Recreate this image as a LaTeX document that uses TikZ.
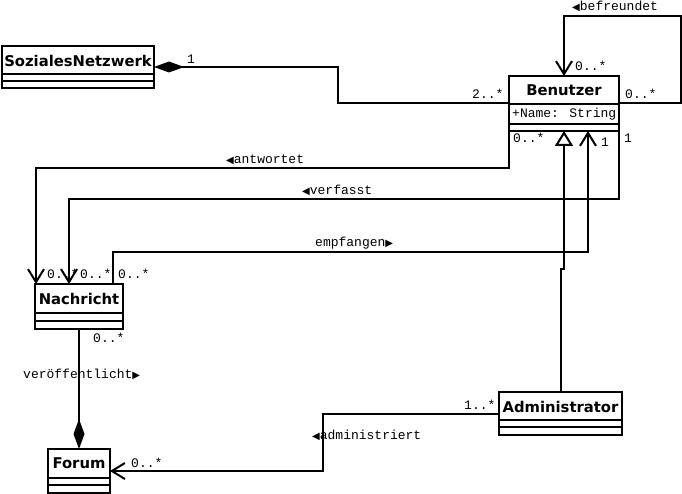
\documentclass[tikz,border=0pt]{standalone}
\usepackage{fontspec}
\setmainfont{DejaVu Sans}
\newfontfamily\monofam{Liberation Mono}
\newfontfamily\symfam{DejaVu Sans}
\usetikzlibrary{arrows.meta}
\newcommand{\tril}{{\symfam\fontsize{10}{10}\selectfont ◀}}
\newcommand{\trir}{{\symfam\fontsize{10}{10}\selectfont ▶}}
\begin{document}
\begin{tikzpicture}[x=1pt,y=-1pt,
  classbox/.style={draw, line width=2pt, inner sep=0pt, outer sep=0pt, anchor=north west},
  cname/.style={font=\fontsize{14.8}{16}\selectfont\bfseries, inner sep=0pt},
  lbl/.style={font=\fontsize{13}{15}\monofam, inner sep=0pt, anchor=base west},
  conn/.style={line width=2pt},
  openarrow/.style={-{Straight Barb[length=13pt,width=16pt]}},
  genarrow/.style={-{Triangle[open,length=15pt,width=18pt,fill=white]}},
  comparrow/.style={-{Diamond[length=30pt,width=11pt]}},
  compstart/.style={{Diamond[length=30pt,width=11pt]}-}
]
\useasboundingbox (0,0) rectangle (682,494);

% classes
\node[classbox, minimum width=152pt, minimum height=42pt] (sn) at (2,46) {};
\node[cname] (snname) at (78,60.5) {SozialesNetzwerk};
\draw[conn] (2,74) -- (154,74);
\draw[conn] (2,81) -- (154,81);

\node[classbox, minimum width=110pt, minimum height=55pt] (ben) at (509,76) {};
\node[cname] (benname) at (564,90.5) {Benutzer};
\node[lbl] (benattr) at (512,118) {+Name: String};
\draw[conn] (509,104) -- (619,104);
\draw[conn] (509,124) -- (619,124);

\node[classbox, minimum width=88pt, minimum height=45pt] (nach) at (35,284) {};
\node[cname] (nachname) at (79,298.5) {Nachricht};
\draw[conn] (35,313) -- (123,313);
\draw[conn] (35,321) -- (123,321);

\node[classbox, minimum width=62pt, minimum height=44pt] (forum) at (48,449) {};
\node[cname] (forumname) at (79,463.5) {Forum};
\draw[conn] (48,478) -- (110,478);
\draw[conn] (48,485) -- (110,485);

\node[classbox, minimum width=123pt, minimum height=43pt] (adm) at (499,392) {};
\node[cname] (admname) at (560.5,406.5) {Administrator};
\draw[conn] (499,420) -- (622,420);
\draw[conn] (499,427) -- (622,427);

% labels
\node[lbl] (m1) at (187,64) {1};
\node[lbl] (m2) at (472,99) {2..*};
\node[lbl] (m3) at (575,71) {0..*};
\node[lbl] (m4) at (625,99) {0..*};
\node[lbl] (l1) at (572,11) {\tril befreundet};
\node[lbl] (m5) at (513,143) {0..*};
\node[lbl] (m6) at (624,143) {1};
\node[lbl] (m7) at (601,147) {1};
\node[lbl] (l2) at (226,164) {\tril antwortet};
\node[lbl] (l3) at (302,195) {\tril verfasst};
\node[lbl] (l4) at (315,247) {empfangen\trir};
\node[lbl] (m8) at (47,278) {0..*};
\node[lbl] (m9) at (80,278) {0..*};
\node[lbl] (m10) at (118,278) {0..*};
\node[lbl] (m11) at (93,342) {0..*};
\node[lbl] (l5) at (23,378) {veröffentlicht\trir};
\node[lbl] (m12) at (464,409) {1..*};
\node[lbl] (l6) at (312,439) {\tril administriert};
\node[lbl] (m13) at (131,467) {0..*};

% connectors
\draw[conn, compstart] (sn.east) -- (338,67) |- (ben.west);
\draw[conn, openarrow] (ben.east) -- (681,103.5) -- (681,16) -| (ben.north);
\draw[conn, openarrow] (ben.south west) -- (509,168) -| ([xshift=1pt]nach.north west);
\draw[conn, openarrow] (ben.south east) -- (619,199) -| ([xshift=34pt]nach.north west);
\draw[conn, openarrow] ([xshift=-10pt]nach.north east) -- (113,252) -| ([xshift=24pt]ben.south);
\draw[conn, genarrow] (adm.north) -- (560.5,269) -- (564,269) -- (ben.south);
\draw[conn, comparrow] (nach.south) -- (forum.north);
\draw[conn, openarrow] (adm.west) -- (323,413.5) |- (forum.east);
\end{tikzpicture}
\end{document}
